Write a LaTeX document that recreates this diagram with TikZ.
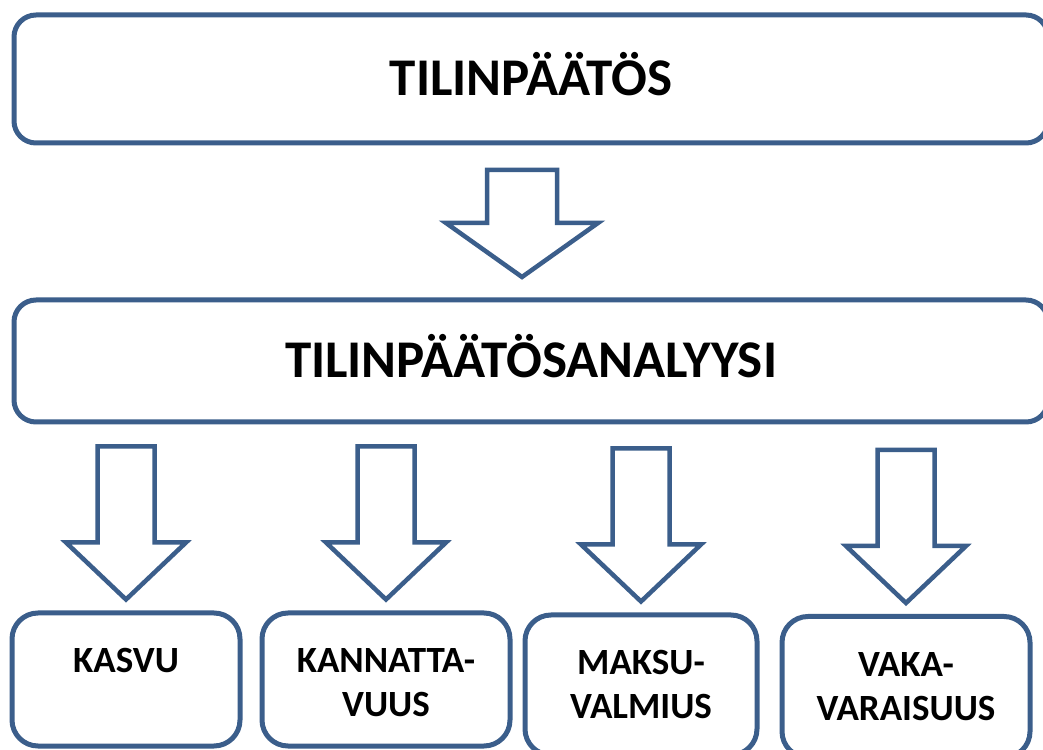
\documentclass[tikz,border=0pt]{standalone}
\usepackage{fontspec}
\setsansfont{Carlito}
\definecolor{boxblue}{RGB}{59,94,139}
\begin{document}
\begin{tikzpicture}[x=1pt, y=1pt,
  bigbox/.style={shape=rectangle, rounded corners=22pt, draw=boxblue, line width=5pt, minimum width=1034pt, text height=33.5pt, text depth=0pt, font=\sffamily\bfseries\fontsize{53}{64}\selectfont},
  smallbox/.style={shape=rectangle, rounded corners=26pt, draw=boxblue, line width=5pt},
  boxtext/.style={anchor=north, yshift=-38pt, inner sep=0pt, align=center, font=\sffamily\bfseries\fontsize{37}{44}\selectfont},
  blockarrow/.style={draw=boxblue, line width=4.5pt, line join=miter}]
\useasboundingbox (0,0) rectangle (1043,749);
\node[bigbox, minimum height=128pt] (paatos) at (531,670) {TILINPÄÄTÖS};
\node[bigbox, minimum height=122pt] (analyysi) at (531,388) {TILINPÄÄTÖSANALYYSI};
\node[smallbox, minimum width=228pt, minimum height=133pt, label={[boxtext]north:KASVU}] (kasvu) at (126,69.5) {};
\node[smallbox, minimum width=248pt, minimum height=133pt, label={[boxtext]north:{KANNATTA-\\VUUS}}] (kannatta) at (386,69.5) {};
\node[smallbox, minimum width=232pt, minimum height=140pt, label={[boxtext]north:{MAKSU-\\VALMIUS}}] (maksu) at (641,64) {};
\node[smallbox, minimum width=248pt, minimum height=141pt, label={[boxtext]north:{VAKA-\\VARAISUUS}}] (vaka) at (906,62) {};
\coordinate (tip) at (522,472);
\draw[blockarrow] (tip) -- ++(76,54) -- ++(-41,0) -- ++(0,53) -- ++(-70,0) -- ++(0,-53) -- ++(-41,0) -- cycle;
\foreach \n in {kasvu, kannatta, maksu, vaka}
  \draw[blockarrow] ([yshift=11pt]\n.north) -- ++(60,57) -- ++(-31.5,0) -- ++(0,96) -- ++(-57,0) -- ++(0,-96) -- ++(-31.5,0) -- cycle;
\end{tikzpicture}
\end{document}
